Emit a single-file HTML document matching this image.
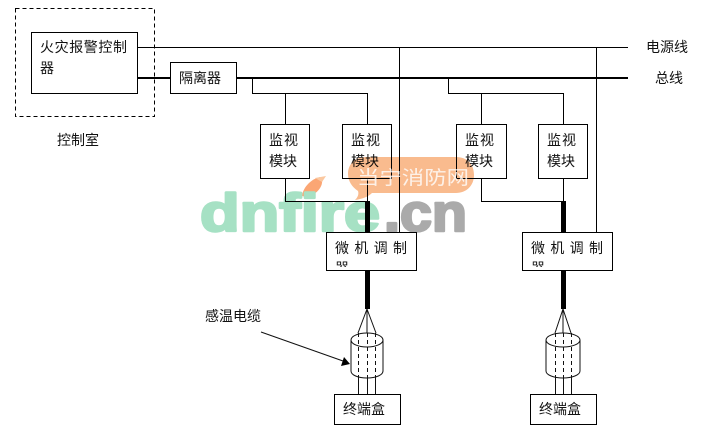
<!DOCTYPE html>
<html><head><meta charset="utf-8"><style>
html,body{margin:0;padding:0;background:#fff;width:701px;height:433px;overflow:hidden}
svg{display:block}
text{font-family:"Liberation Sans","WenQuanYi Zen Hei","Noto Sans CJK SC",sans-serif;font-size:14px;fill:#111}
.wm{font-weight:bold;font-size:53px;stroke-width:2.5px;stroke-linejoin:round}
</style></head><body>
<svg width="701" height="433" viewBox="0 0 701 433" xmlns="http://www.w3.org/2000/svg">
<defs>
<clipPath id="c1"><rect x="330" y="255" width="30" height="12"/></clipPath>
<clipPath id="c2"><rect x="526" y="255" width="30" height="12"/></clipPath>
</defs>
<rect width="701" height="433" fill="#fff"/>
<g fill="none" stroke="#000" stroke-width="1" shape-rendering="crispEdges">
<rect x="15.5" y="8.5" width="139" height="108" stroke-dasharray="4 3"/>
<rect x="31.5" y="32.5" width="106" height="61"/>
<rect x="170.5" y="62.5" width="66" height="31"/>
<path d="M137 47.5H628M399.5 47V232M596.5 47V232"/>
<path d="M252.5 78V93.5H367.5V124M285.5 93V124M448.5 78V93.5H563.5V124M481.5 93V124"/>
<path d="M285.5 178V201.5H367.5V178M481.5 178V201.5H563.5V178"/>
<rect x="260.5" y="124.5" width="49" height="54"/>
<rect x="342.5" y="124.5" width="49" height="54"/>
<rect x="456.5" y="124.5" width="50" height="54"/>
<rect x="538.5" y="124.5" width="49" height="54"/>
<rect x="326.5" y="232.5" width="90" height="38"/>
<rect x="522.5" y="232.5" width="90" height="38"/>
<rect x="334.5" y="394.5" width="66" height="30"/>
<rect x="530.5" y="394.5" width="66" height="30"/>
</g>
<g fill="#000" shape-rendering="crispEdges">
<rect x="137" y="77" width="33" height="2"/>
<rect x="236" y="77" width="392" height="2"/>
<rect x="365" y="201" width="5" height="31"/>
<rect x="561" y="201" width="5" height="31"/>
<rect x="365" y="271" width="5" height="38"/>
<rect x="561" y="271" width="5" height="38"/>
</g>
<!-- cylinders -->
<g fill="none" stroke="#111" stroke-width="1">
<path d="M367 309L358 333M367 309V333M367 309L376 333"/>
<ellipse cx="367" cy="340" rx="16" ry="7"/>
<path d="M351 340V371C351 375 358 378 367 378S383 375 383 371V340"/>
<path d="M358.5 333V378M367.5 333V378M375.5 333V378" stroke-dasharray="4 3"/>
<path d="M358.5 378V394M367.5 378V394M375.5 378V394"/>
<path d="M563 309L555 333M563 309V333M563 309L571 333"/>
<ellipse cx="563" cy="340" rx="17" ry="7"/>
<path d="M546 340V371C546 375 554 378 563 378S580 375 580 371V340"/>
<path d="M555.5 333V378M563.5 333V378M571.5 333V378" stroke-dasharray="4 3"/>
<path d="M555.5 378V394M563.5 378V394M571.5 378V394"/>
<path d="M261 332L343 361"/>
</g>
<path d="M350 364L344 357L341 366Z" fill="#000"/>
<!-- labels -->
<text x="40" y="52" textLength="87">火灾报警控制</text>
<text x="40" y="73">器</text>
<text x="179" y="83" textLength="42">隔离器</text>
<text x="57" y="145" textLength="42">控制室</text>
<text x="646" y="52" textLength="42">电源线</text>
<text x="655" y="83" textLength="28">总线</text>
<text x="269" y="145" textLength="29">监视</text><text x="269" y="166" textLength="28">模块</text>
<text x="351" y="145" textLength="29">监视</text><text x="351" y="166" textLength="28">模块</text>
<text x="465" y="145" textLength="29">监视</text><text x="465" y="166" textLength="28">模块</text>
<text x="547" y="145" textLength="29">监视</text><text x="547" y="166" textLength="28">模块</text>
<text x="335" y="253" textLength="72">微 机 调 制</text>
<text x="531" y="253" textLength="72">微 机 调 制</text>
<text x="335" y="273" clip-path="url(#c1)">器</text>
<text x="531" y="273" clip-path="url(#c2)">器</text>
<text x="205" y="321" textLength="56">感温电缆</text>
<text x="343" y="414" textLength="42">终端盒</text>
<text x="539" y="414" textLength="42">终端盒</text>
<!-- watermark -->
<g style="mix-blend-mode:multiply">
<path d="M366 157H456C467 157 474 164 474 175C474 186 466 193 456 193H372C368 197 362 199 355 200C358 197 359 194 358 191C352 187 348 181 348 174C348 164 355 157 366 157Z" fill="#f9bb8e"/>
<path d="M302 196C303 187 312 178 321 177C325 184 318 195 306 197Z" fill="#fba674"/>
<path d="M315 178L326 176L322 182Z" fill="#fbc8a0"/>
<text class="wm" x="200" y="231" textLength="180" lengthAdjust="spacingAndGlyphs" style="fill:#a6e1c4;stroke:#a6e1c4">dnfire</text>
<text class="wm" x="384" y="231" textLength="83" lengthAdjust="spacingAndGlyphs" style="fill:#aaaaaa;stroke:#aaaaaa">.cn</text>
</g>
<text x="357" y="184" textLength="112" lengthAdjust="spacingAndGlyphs" style="font-size:19px;fill:#fff;opacity:.8">当宁消防网</text>
</svg>
</body></html>
